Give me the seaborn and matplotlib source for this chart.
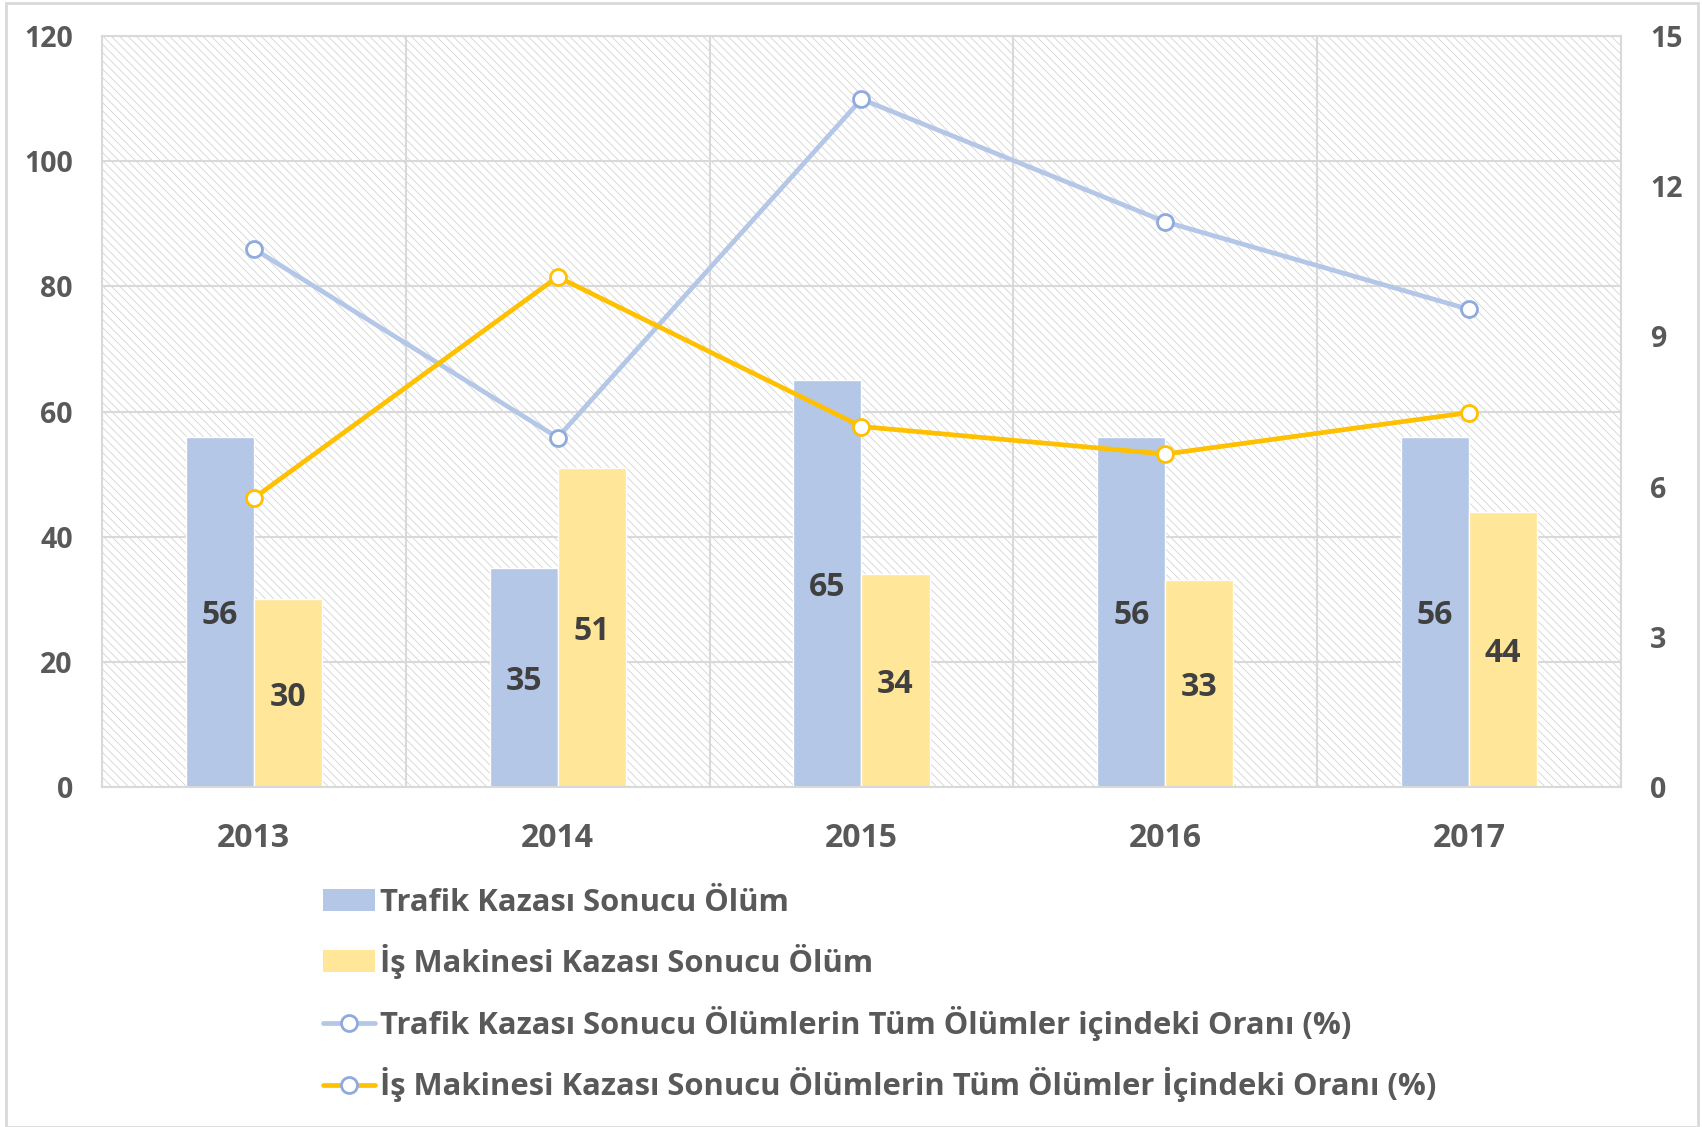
import matplotlib
matplotlib.use("Agg")
import matplotlib.pyplot as plt
from matplotlib.patches import Patch, Rectangle
from matplotlib.lines import Line2D
from matplotlib.ticker import FixedLocator
import seaborn as sns
import pandas as pd

# data
years = ["2013", "2014", "2015", "2016", "2017"]
trafik_olum = [56, 35, 65, 56, 56]
makine_olum = [30, 51, 34, 33, 44]
trafik_oran = [10.75, 6.98, 13.74, 11.29, 9.54]
makine_oran = [5.77, 10.19, 7.20, 6.65, 7.48]

bar_names = ["Trafik Kazası Sonucu Ölüm", "İş Makinesi Kazası Sonucu Ölüm"]
line_names = ["Trafik Kazası Sonucu Ölümlerin Tüm Ölümler içindeki Oranı (%)",
              "İş Makinesi Kazası Sonucu Ölümlerin Tüm Ölümler İçindeki Oranı (%)"]

blue = "#B4C7E7"
blue_dark = "#8FAADC"
yellow = "#FFE699"
gold = "#FFC000"
grid_c = "#D9D9D9"
txt = "#595959"

sns.set_style("white")
plt.rcParams["font.family"] = ["Open Sans", "DejaVu Sans"]
plt.rcParams["font.weight"] = "bold"
plt.rcParams["hatch.linewidth"] = 0.55
plt.rcParams["hatch.color"] = "#D0D0D0"

df = pd.DataFrame({
    "year": years * 2,
    "series": [bar_names[0]] * 5 + [bar_names[1]] * 5,
    "value": trafik_olum + makine_olum,
})

fig = plt.figure(figsize=(17.02, 11.27), dpi=100)
ax = fig.add_axes([0.0599, 0.3017, 0.8925, 0.6663])
fig.patches.append(Rectangle((0.0035, 0.0), 0.9942, 0.997, transform=fig.transFigure,
                             fill=False, edgecolor=grid_c, linewidth=2))

# hatched plot background
ax.patch.set_facecolor("white")
ax.patch.set_hatch("\\\\\\\\")
ax.patch.set_edgecolor("#D0D0D0")
ax.patch.set_linewidth(0)

sns.barplot(data=df, x="year", y="value", hue="series", palette=[blue, yellow],
            width=0.448, gap=0, saturation=1, ax=ax, legend=False, zorder=2)

for cont in ax.containers:
    labels = ax.bar_label(cont, label_type="center", fontsize=23, fontweight="bold",
                          color="#404040")
    for t in labels:
        t.xyann = (0, -3)  # Excel centres a bit lower

ax.set_ylim(0, 120)
ax.set_xlim(-0.5, 4.5)
ax.set_yticks(range(0, 121, 20))
ax.set_xlabel("")
ax.set_ylabel("")
ax.xaxis.set_minor_locator(FixedLocator([i - 0.5 for i in range(6)]))
ax.set_axisbelow(True)
ax.grid(axis="y", which="major", color=grid_c, linewidth=1.5)
ax.grid(axis="x", which="minor", color=grid_c, linewidth=1.5)
ax.tick_params(axis="x", which="major", length=0, pad=25, labelsize=23, labelcolor=txt)
ax.tick_params(axis="x", which="minor", length=9, width=1.5, color=grid_c, direction="out")
ax.tick_params(axis="y", length=0, pad=21, labelsize=20.5, labelcolor=txt)
for lab in ax.get_xticklabels() + ax.get_yticklabels():
    lab.set_fontweight("bold")
for sp in ax.spines.values():
    sp.set_color(grid_c)
    sp.set_linewidth(1.5)

# ratio lines on the right axis
ax2 = ax.twinx()
xpos = list(range(len(years)))
sns.lineplot(x=xpos, y=trafik_oran, ax=ax2, color=blue, linewidth=3.4, marker="o",
             markersize=11.5, markerfacecolor="white", markeredgecolor=blue_dark,
             markeredgewidth=2, zorder=4)
sns.lineplot(x=xpos, y=makine_oran, ax=ax2, color=gold, linewidth=3.4, marker="o",
             markersize=11.5, markerfacecolor="white", markeredgecolor=gold,
             markeredgewidth=2, zorder=4)
ax2.set_ylim(0, 15)
ax2.set_yticks(range(0, 16, 3))
ax2.tick_params(axis="y", length=0, pad=21, labelsize=20.5, labelcolor=txt)
for lab in ax2.get_yticklabels():
    lab.set_fontweight("bold")
for sp in ax2.spines.values():
    sp.set_visible(False)
ax2.grid(False)

handles = [
    Patch(facecolor=blue, edgecolor="none"),
    Patch(facecolor=yellow, edgecolor="none"),
    Line2D([], [], color=blue, linewidth=3.4, marker="o", markersize=11.5,
           markerfacecolor="white", markeredgecolor=blue_dark, markeredgewidth=2),
    Line2D([], [], color=gold, linewidth=3.4, marker="o", markersize=11.5,
           markerfacecolor="white", markeredgecolor=blue_dark, markeredgewidth=2),
]
leg = fig.legend(handles, bar_names + line_names, loc="upper left",
                 bbox_to_anchor=(0.19, 0.2125), frameon=False, fontsize=22.3,
                 handlelength=1.68, handletextpad=0.15, labelspacing=0.86,
                 borderpad=0, borderaxespad=0)
for t in leg.get_texts():
    t.set_color(txt)
    t.set_fontweight("bold")

fig.savefig("out.png", dpi=100)
